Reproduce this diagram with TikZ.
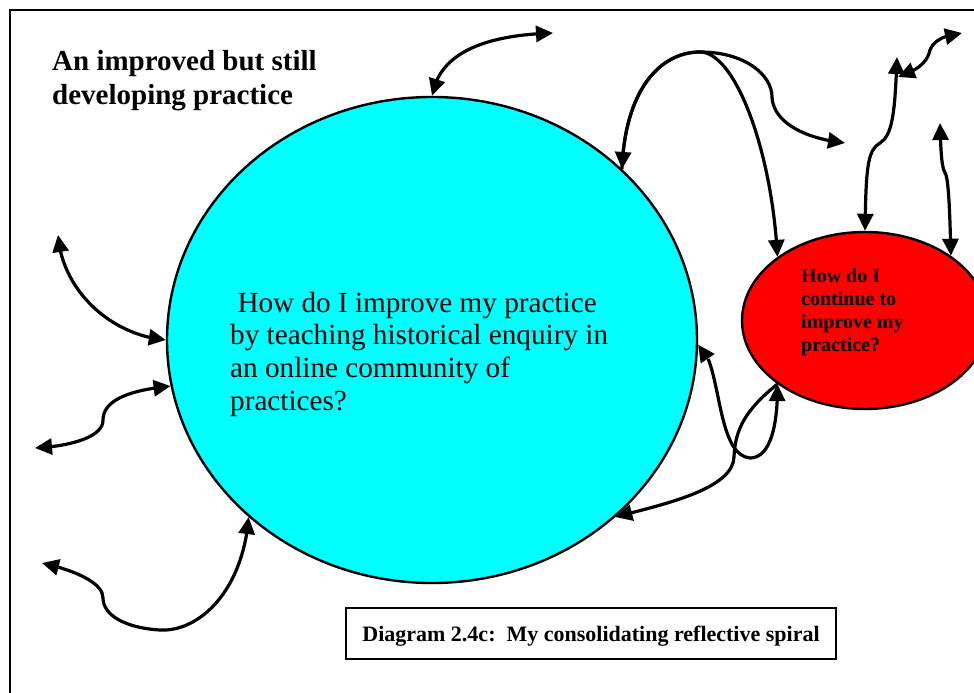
\documentclass[tikz,border=0pt]{standalone}
\usepackage{fontspec}
\setmainfont{Liberation Serif}
\usetikzlibrary{arrows.meta,bending,shapes.geometric}
\definecolor{aqua}{RGB}{0,255,255}
\definecolor{purered}{RGB}{255,0,0}
\begin{document}
\begin{tikzpicture}[x=1pt,y=-1pt,
  >={Triangle[length=17pt,width=16pt]},
  conn/.style={line width=3.2pt,draw=black},
  both/.style={conn,<->},
  one/.style={conn,->},
  bubble/.style={ellipse,draw=black,line width=2.4pt,inner sep=0pt},
  txt/.style={anchor=north west,inner sep=0pt,align=left}]
\useasboundingbox (0,0) rectangle (974,693);
\clip (0,0) rectangle (974,693);
\fill[white] (0,0) rectangle (974,693);
\draw[line width=2.2pt] (10,10) rectangle (1000,720);

\node[bubble,fill=aqua,minimum width=530pt,minimum height=486pt] (big) at (432,340) {};
\node[bubble,fill=purered,minimum width=246pt,minimum height=177pt] (small) at (865,320.5) {};

\node[txt,font=\fontsize{29}{34}\selectfont\bfseries] (title) at (52,45)
  {\rule{0pt}{25pt}An improved but still\\developing practice};
\node[txt,font=\fontsize{29.2}{32.7}\selectfont] (bigtext) at (230,287)
  {\rule{0pt}{25pt}\ How do I improve my practice\\by teaching historical enquiry in\\an online community of\\practices?};
\node[txt,font=\fontsize{20}{23}\selectfont\bfseries] (smalltext) at (801,265)
  {\rule{0pt}{17pt}How do I\\continue to\\improve my\\practice?};
\node[draw=black,line width=2.2pt,minimum width=490pt,minimum height=51pt,inner sep=0pt,
  text height=18pt,text depth=2pt,font=\fontsize{22}{26}\selectfont\bfseries] (caption) at (591,633.5)
  {Diagram 2.4c:\ \ My consolidating reflective spiral};

\coordinate (e1) at (553,33);
\coordinate (e2) at (845,143);
\coordinate (e3) at (897,57);
\coordinate (e4a) at (898,77);
\coordinate (e4b) at (962,33);
\coordinate (e5) at (940,123);
\coordinate (e6) at (58,235);
\coordinate (e7) at (35,448);
\coordinate (e8) at (42,563);

\draw[both] (big.90) .. controls (440,50) and (490,35) .. (e1);
\draw[both] (big.42.5) .. controls (625,90) and (660,52) .. (700,52)
  .. controls (735,52) and (772,150) .. (small.144);
\draw[one] (big.42.5) .. controls (625,90) and (660,52) .. (700,52)
  .. controls (745,52) and (772,75) .. (772,97)
  .. controls (773,120) and (800,138) .. (e2);
\draw[both] (small.90) .. controls (866,170) and (867,150) .. (880,143)
  .. controls (893,135) and (895,110) .. (e3);
\draw[both] (e4a) .. controls (920,70) and (928,60) .. (930,50)
  .. controls (935,38) and (948,35) .. (e4b);
\draw[both] (e5) .. controls (941,160) and (942,168) .. (946,175)
  .. controls (949,185) and (950,220) .. (small.37);
\draw[both] (big.-1) .. controls (722,360) and (715,455) .. (750,458)
  .. controls (772,458) and (778,420) .. (small.216);
\draw[one] (small.216) .. controls (745,410) and (735,430) .. (734,457)
  .. controls (733,490) and (660,505) .. (big.-44);
\draw[both] (e6) .. controls (62,290) and (110,335) .. (big.180);
\draw[both] (big.190) .. controls (130,390) and (103,400) .. (103,420)
  .. controls (103,440) and (60,447) .. (e7);
\draw[both] (big.224) .. controls (243,590) and (200,632) .. (160,630)
  .. controls (125,628) and (103,615) .. (103,598)
  .. controls (103,580) and (65,568) .. (e8);
\end{tikzpicture}
\end{document}
